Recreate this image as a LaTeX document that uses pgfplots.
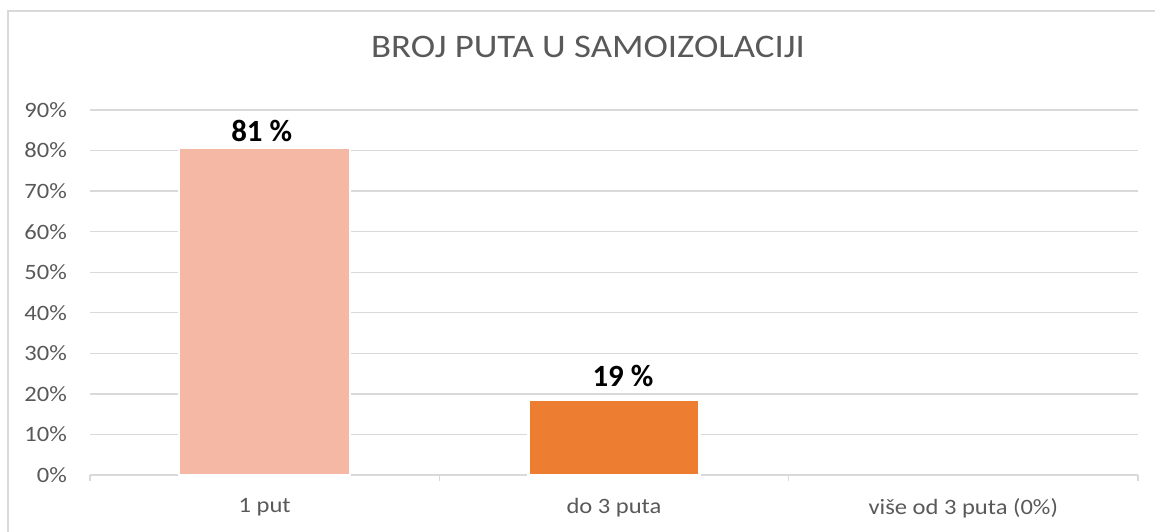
\documentclass[border=0pt]{standalone}
\usepackage{fontspec}
\setmainfont{Carlito}[FakeStretch=1.12]
\newfontfamily\lblfont{Carlito}
\usepackage{pgfplots}
\pgfplotsset{compat=1.18}
\definecolor{barlight}{HTML}{F4B8A4}
\definecolor{barorange}{HTML}{ED7D31}
\definecolor{txtgray}{HTML}{595959}
\definecolor{gridgray}{HTML}{D9D9D9}
\begin{document}
\begin{tikzpicture}
\path[use as bounding box] (0,0) rectangle (1155bp,532bp);
% chart frame (only left and top edge are visible)
\draw[gridgray, line width=1.5bp] (8bp,0) -- (8bp,521bp) -- (1155bp,521bp);
\node[anchor=base, text=txtgray, font=\fontsize{33}{39}\selectfont] at (588bp,474bp) {BROJ PUTA U SAMOIZOLACIJI};
\begin{axis}[
    at={(90bp,57bp)}, anchor=south west,
    scale only axis, width=1048bp, height=365bp,
    xmin=-0.5, xmax=2.5, ymin=0, ymax=90,
    axis x line*=bottom, axis y line*=left,
    x axis line style={draw=gridgray, line width=1.5bp, -},
    y axis line style={draw=none, -},
    xtick={0,1,2},
    xticklabels={1 put, do 3 puta, više od 3 puta (0\%)},
    minor xtick={-0.5,0.5,1.5,2.5},
    major tick length=0pt,
    minor tick length=6bp,
    tick align=outside,
    minor x tick style={draw=gridgray, line width=1.5bp},
    ytick={0,10,...,90},
    yticklabel={\pgfmathprintnumber{\tick}\%},
    /pgf/number format/assume math mode=true,
    ymajorgrids,
    major grid style={draw=gridgray, line width=1.3bp},
    yticklabel style={font=\fontsize{22}{26}\selectfont, text=txtgray, anchor=east, inner sep=0pt, xshift=-23bp},
    xticklabel style={font=\fontsize{22}{26}\selectfont, text=txtgray, anchor=north, inner sep=0pt, yshift=-23bp},
    ybar, bar shift=0pt, bar width=171bp,
    point meta=explicit symbolic,
    nodes near coords,
    clip=false,
]
\addplot[fill=barlight, draw=white, line width=2.5bp,
    nodes near coords style={font=\lblfont\bfseries\fontsize{31}{37}\selectfont, text=black, anchor=south, inner sep=0pt, yshift=5bp, xshift=-3bp}]
    coordinates {(0,80.7) [81 \%]};
\addplot[fill=barorange, draw=white, line width=2.5bp,
    nodes near coords style={font=\lblfont\bfseries\fontsize{31}{37}\selectfont, text=black, anchor=south, inner sep=0pt, yshift=12bp, xshift=9bp}]
    coordinates {(1,18.5) [19 \%]};
\end{axis}
\end{tikzpicture}
\end{document}
